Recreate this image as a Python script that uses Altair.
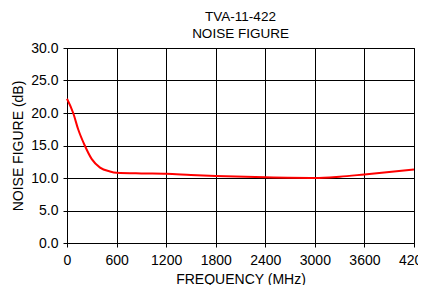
import altair as alt
import pandas as pd

freq = [0, 75, 135, 215, 300, 400, 520, 600, 900, 1200, 1500, 1800, 2400, 3000, 3300, 3600, 4200]
nf = [22.2, 20.0, 17.5, 15.0, 12.9, 11.6, 11.0, 10.8, 10.7, 10.65, 10.45, 10.3, 10.1, 10.0, 10.2, 10.55, 11.3]
x_ticks = [0, 600, 1200, 1800, 2400, 3000, 3600, 4200]
y_ticks = [0, 5, 10, 15, 20, 25, 30]

df = pd.DataFrame({"f": freq, "nf": nf})
FONT = "Liberation Sans"

chart = alt.Chart(df).mark_line(color="#ff0000", strokeWidth=2, interpolate="monotone").encode(
    x=alt.X("f:Q", scale=alt.Scale(domain=[0, 4200], nice=False),
            axis=alt.Axis(values=x_ticks, title="FREQUENCY (MHz)", format="d", labelPadding=6,
                          labelFlush=False, labelOverlap=False, titlePadding=5)),
    y=alt.Y("nf:Q", scale=alt.Scale(domain=[0, 30], nice=False),
            axis=alt.Axis(values=y_ticks, title="NOISE FIGURE (dB)", format=".1f", labelPadding=5,
                          labelFlush=False, titlePadding=5)),
).properties(
    width=347, height=195,
    title=alt.TitleParams(["TVA-11-422", "NOISE FIGURE"], fontSize=13.5, fontWeight="normal",
                          font=FONT, color="black", anchor="middle", offset=1, lineHeight=17),
    autosize=alt.AutoSizeParams(type="none"),
    padding={"left": 59, "top": 40, "right": 4, "bottom": 42},
).configure_axis(
    grid=True, gridColor="black", gridOpacity=1, gridWidth=1,
    domainColor="black", tickColor="black", tickSize=4,
    labelFont=FONT, labelFontSize=14, labelColor="black",
    titleFont=FONT, titleFontSize=14, titleFontWeight="normal", titleColor="black",
).configure_view(stroke="black", strokeWidth=1)

chart.save("out.html", embed_options={"renderer": "svg", "actions": False})
